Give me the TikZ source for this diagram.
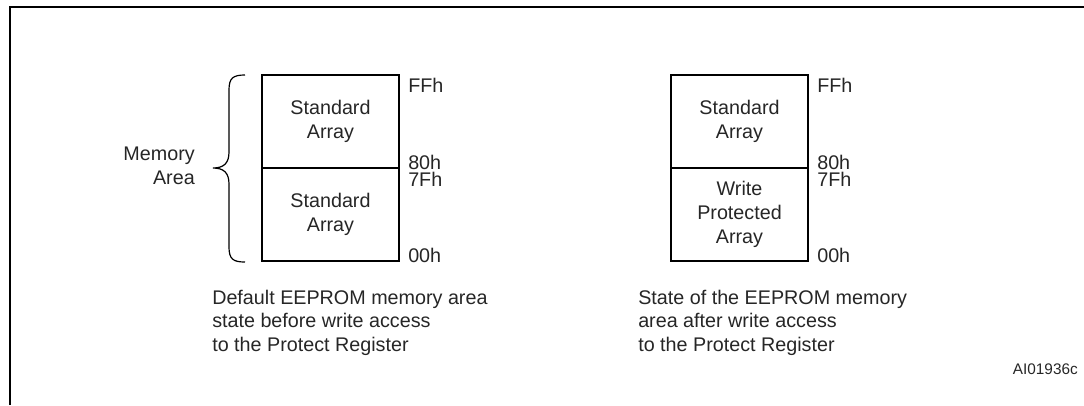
\documentclass[tikz,border=0pt]{standalone}
\usepackage{fontspec}
\setmainfont{Liberation Sans}
\begin{document}
\begin{tikzpicture}[x=0.75pt,y=-0.75pt,
  cell/.style={draw, line width=2.2pt, minimum width=102.75pt, minimum height=69.75pt, inner sep=0pt, align=center, font=\fontsize{14.8}{17.8}\selectfont, text=black!85},
  addr/.style={anchor=west, inner sep=0pt, text height=10.6pt, text depth=0pt, font=\fontsize{14.8}{17.8}\selectfont, text=black!85},
  caption/.style={anchor=west, inner sep=0pt, align=left, font=\fontsize{14.8}{17.6}\selectfont, text=black!85},
  frameline/.style={line width=2pt},
  bracepath/.style={line width=0.9pt}]
\useasboundingbox (0,0) rectangle (1084,405);
% frame (open on right and bottom)
\draw[frameline] (10,405) -- (10,7) -- (1084,7);
% left memory
\node[cell] (lt) at (330.5,121.5) {Standard\\Array};
\node[cell] (lb) at (330.5,214.5) {Standard\\Array};
% right memory
\node[cell] (rt) at (739.5,121.5) {Standard\\Array};
\node[cell] (rb) at (739.5,214.5) {Write\\Protected\\Array};
% addresses
\node[addr] (lff) at (408,85) {FFh};
\node[addr] (l80) at (408,162.5) {80h};
\node[addr] (l7f) at (408,179.5) {7Fh};
\node[addr] (l00) at (408,255) {00h};
\node[addr] (rff) at (817,85) {FFh};
\node[addr] (r80) at (817,162.5) {80h};
\node[addr] (r7f) at (817,179.5) {7Fh};
\node[addr] (r00) at (817,255) {00h};
% brace
\draw[bracepath] (245,75) .. controls (233,75) and (229,78) .. (229,90)
  -- (229,152) .. controls (229,163) and (224,168) .. (213,168)
  .. controls (224,168) and (229,173) .. (229,184)
  -- (229,247) .. controls (229,259) and (233,262) .. (245,262);
\node[anchor=east, inner sep=0pt, align=right, font=\fontsize{14.8}{17.8}\selectfont, text=black!85] (mem) at (195,165.5) {Memory\\Area};
% captions
\node[caption] (capl) at (212,322.5) {Default EEPROM memory area\\state before write access\\to the Protect Register};
\node[caption] (capr) at (638,322.5) {State of the EEPROM memory\\area after write access\\to the Protect Register};
\node[anchor=east, inner sep=0pt, font=\fontsize{11.5}{13}\selectfont, text=black!85] (id) at (1078,369) {AI01936c};
\end{tikzpicture}
\end{document}
